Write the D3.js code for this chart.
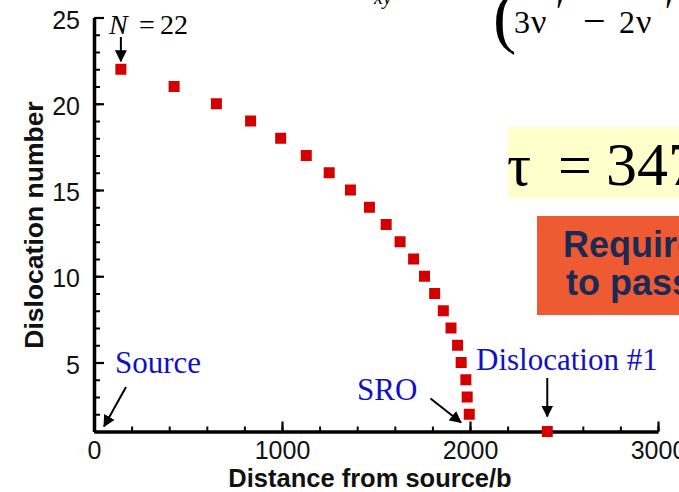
<!DOCTYPE html>
<html>
<head>
<meta charset="utf-8">
<script src="https://cdn.jsdelivr.net/npm/d3@7/dist/d3.min.js"></script>
<style>
  html, body { margin: 0; padding: 0; background: #fff; }
  svg { display: block; }
</style>
</head>
<body>
<script>
// Dislocation pile-up: position of each dislocation measured from the source (in units of b)
const dislocationNumbers = [1, 2, 3, 4, 5, 6, 7, 8, 9, 10, 11, 12, 13, 14, 15, 16, 17, 18, 19, 20, 21, 22];
const distances = [2411, 1996, 1985, 1978, 1953, 1934, 1899, 1858, 1812, 1758, 1700, 1628, 1554, 1465, 1364, 1251, 1129, 993, 833, 651, 426, 143];

const xMajorTicks = [0, 1000, 2000, 3000];
const yMajorTicks = [5, 10, 15, 20, 25];

const W = 679, H = 492;
const svg = d3.select("body").append("svg").attr("width", W).attr("height", H);

const x = d3.scaleLinear().domain([0, 3000]).range([94, 658]);
const y = d3.scaleLinear().domain([1, 25]).range([431.5, 17.5]);

const data = dislocationNumbers.map((n, i) => ({ n, d: distances[i] }));

// arrowhead marker
svg.append("defs").append("marker")
  .attr("id", "head")
  .attr("viewBox", "0 0 12 12")
  .attr("refX", 11).attr("refY", 6)
  .attr("markerWidth", 12).attr("markerHeight", 12)
  .attr("markerUnits", "userSpaceOnUse")
  .attr("orient", "auto")
  .append("path").attr("d", "M0,0 L12,6 L0,12 Z").attr("fill", "#000");

// --- side panels (equation and note boxes) ---
const serif = "'Liberation Serif', 'Times New Roman', serif";
const eq = svg.append("g").attr("font-family", serif).attr("fill", "#000");
eq.append("text").attr("x", 374).attr("y", 4).attr("font-size", 20).attr("font-style", "italic").text("xy");
eq.append("text").attr("x", 493).attr("y", 40).attr("font-size", 70).text("(");
const eqParts = [
  { t: "3", x: 514, y: 33, s: 32 },
  { t: "ν", x: 531, y: 33, s: 34 },
  { t: "′", x: 556, y: 22, s: 34 },
  { t: "−", x: 583, y: 34, s: 40 },
  { t: "2", x: 619, y: 33, s: 32 },
  { t: "ν", x: 636, y: 33, s: 34 },
  { t: "′", x: 665, y: 22, s: 34 }
];
eqParts.forEach(p => eq.append("text").attr("x", p.x).attr("y", p.y).attr("font-size", p.s).text(p.t));

svg.append("rect").attr("x", 508).attr("y", 127).attr("width", W - 508).attr("height", 71).attr("fill", "#ffffcc");
const tau = svg.append("g").attr("font-family", serif).attr("fill", "#000");
tau.append("text").attr("x", 507).attr("y", 185).attr("font-size", 60).text("τ");
tau.append("text").attr("x", 558).attr("y", 185).attr("font-size", 60).text("=");
tau.append("text").attr("x", 606).attr("y", 185).attr("font-size", 62).text("347");

svg.append("rect").attr("x", 537).attr("y", 216).attr("width", W - 537).attr("height", 99).attr("fill", "#ee5a31");
const note = svg.append("g").attr("font-family", "'Liberation Sans', Arial, sans-serif").attr("font-weight", "bold").attr("font-size", 36).attr("fill", "#1b2a55");
note.append("text").attr("x", 563).attr("y", 257).text("Required");
note.append("text").attr("x", 566).attr("y", 295).text("to pass");

// --- axes ---
const tickFont = "'Liberation Sans', Arial, sans-serif";

const gx = svg.append("g").attr("transform", `translate(0,${y(1)})`);
gx.call(d3.axisBottom(x).tickValues(d3.range(0, 3001, 200)).tickSizeInner(-5).tickSizeOuter(0).tickFormat(""));
gx.call(g => g.selectAll(".tick line").attr("stroke-width", 2));
const gxMaj = svg.append("g").attr("transform", `translate(0,${y(1)})`);
gxMaj.call(d3.axisBottom(x).tickValues(xMajorTicks).tickSizeInner(-10).tickSizeOuter(0).tickPadding(9.5).tickFormat(d3.format("d")));
gxMaj.select(".domain").attr("stroke-width", 3.5);
gxMaj.selectAll(".tick line").attr("stroke-width", 2.2);
gxMaj.selectAll(".tick text").attr("font-family", tickFont).attr("font-size", 25).attr("fill", "#111");

const gy = svg.append("g").attr("transform", `translate(${x(0)},0)`);
gy.call(d3.axisLeft(y).tickValues(d3.range(1, 26, 1)).tickSizeInner(-6).tickSizeOuter(0).tickFormat(""));
gy.call(g => g.selectAll(".tick line").attr("stroke-width", 2));
const gyMaj = svg.append("g").attr("transform", `translate(${x(0)},0)`);
gyMaj.call(d3.axisLeft(y).tickValues(yMajorTicks).tickSizeInner(-10).tickSizeOuter(0).tickPadding(14).tickFormat(d3.format("d")));
gyMaj.select(".domain").attr("stroke-width", 3.5);
gyMaj.selectAll(".tick line").attr("stroke-width", 2.2);
gyMaj.selectAll(".tick text").attr("font-family", tickFont).attr("font-size", 25).attr("fill", "#111").attr("dy", "0.42em");
svg.selectAll(".domain").attr("stroke", "#000");

// axis titles
svg.append("text")
  .attr("x", 370).attr("y", 487)
  .attr("text-anchor", "middle")
  .attr("font-family", tickFont).attr("font-weight", "bold").attr("font-size", 25.5).attr("fill", "#111")
  .text("Distance from source/b");
svg.append("text")
  .attr("transform", "translate(43,225) rotate(-90)")
  .attr("text-anchor", "middle")
  .attr("font-family", tickFont).attr("font-weight", "bold").attr("font-size", 26.5).attr("fill", "#111")
  .text("Dislocation number");

// --- data markers ---
const size = 11;
svg.append("g").selectAll("rect").data(data).join("rect")
  .attr("x", d => x(d.d) - size / 2)
  .attr("y", d => y(d.n) - size / 2)
  .attr("width", size).attr("height", size)
  .attr("fill", "#d40000");

// --- annotations ---
const last = data[data.length - 1];
const first = data[0];

const nLabel = svg.append("text").attr("font-family", serif).attr("font-size", 28).attr("fill", "#000").attr("y", 34);
nLabel.append("tspan").attr("x", 109).attr("font-style", "italic").text("N");
nLabel.append("tspan").attr("x", 139).text("=");
nLabel.append("tspan").attr("x", 160).text(String(last.n));

function arrow(x1, y1, x2, y2) {
  svg.append("line").attr("x1", x1).attr("y1", y1).attr("x2", x2).attr("y2", y2)
    .attr("stroke", "#000").attr("stroke-width", 2).attr("marker-end", "url(#head)");
}
arrow(x(last.d), 37, x(last.d), y(last.n) - 8);
arrow(x(first.d), 378, x(first.d), y(first.n) - 15);
arrow(x(0) + 32, 387, x(0) + 10, y(1) - 5);
arrow(430.5, 398.5, x(2000) - 9, y(1) - 9);

const blue = "#1010c8";
svg.append("text").attr("x", 115).attr("y", 373).attr("font-family", serif).attr("font-size", 31).attr("fill", blue).text("Source");
svg.append("text").attr("x", 357).attr("y", 400).attr("font-family", serif).attr("font-size", 31).attr("fill", blue).text("SRO");
svg.append("text").attr("x", 476).attr("y", 370).attr("font-family", serif).attr("font-size", 31).attr("fill", blue).text("Dislocation #1");
</script>
</body>
</html>
